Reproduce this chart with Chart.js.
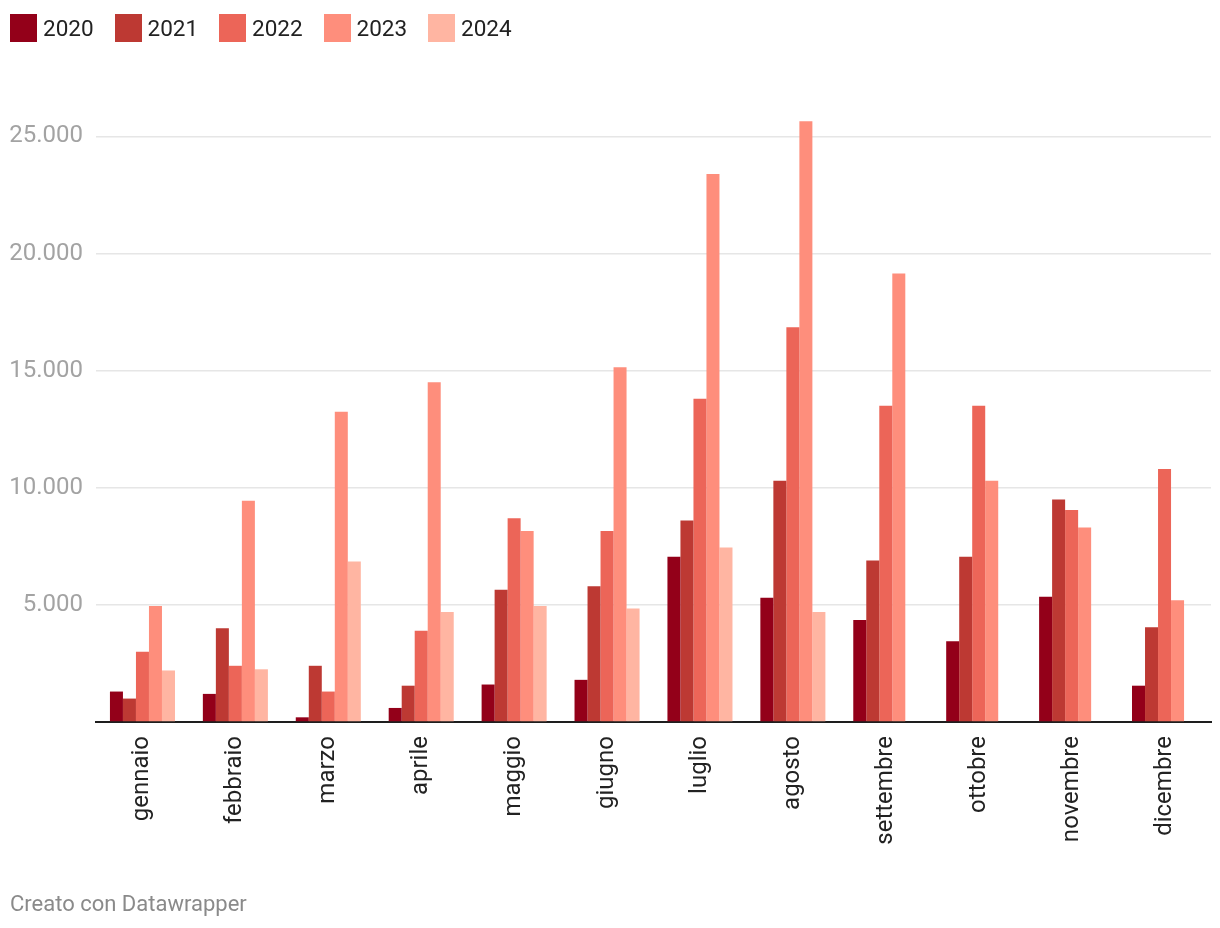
<!DOCTYPE html>
<html lang="it">
<head>
<meta charset="utf-8">
<title>Mesi 2020-2024</title>
<script src="https://cdn.jsdelivr.net/npm/chart.js@4.4.1/dist/chart.umd.min.js"></script>
<style>
  body { margin: 0; background: #fff; font-family: Roboto, "Noto Sans", sans-serif; }
  #wrap { position: relative; width: 1220px; height: 928px; }
  #legend { position: absolute; left: 10px; top: 14px; display: flex; }
  .item { display: flex; align-items: center; width: 104.5px; font-size: 22.5px; color: #222; }
  .box { width: 27px; height: 28px; margin-right: 6px; }
  #footer { position: absolute; left: 10px; top: 891px; font-size: 22px; color: #8a8a8a; }
</style>
</head>
<body>
<div id="wrap">
  <canvas id="chart"></canvas>
  <div id="legend"></div>
  <div id="footer">Creato con Datawrapper</div>
</div>
<script>
// Categories and series
const months = ["gennaio", "febbraio", "marzo", "aprile", "maggio", "giugno",
  "luglio", "agosto", "settembre", "ottobre", "novembre", "dicembre"];
const years = ["2020", "2021", "2022", "2023", "2024"];
const colors = ["#930019", "#bd3933", "#ec6558", "#fe8e7c", "#ffb5a2"];

const v2020 = [1300, 1200, 200, 600, 1600, 1800, 7050, 5300, 4350, 3450, 5350, 1550];
const v2021 = [1000, 4000, 2400, 1550, 5650, 5800, 8600, 10300, 6900, 7050, 9500, 4050];
const v2022 = [3000, 2400, 1300, 3900, 8700, 8150, 13800, 16850, 13500, 13500, 9050, 10800];
const v2023 = [4950, 9450, 13250, 14500, 8150, 15150, 23400, 25650, 19150, 10300, 8300, 5200];
const v2024 = [2200, 2250, 6850, 4700, 4950, 4850, 7450, 4700, null, null, null, null];

const yTicks = [5000, 10000, 15000, 20000, 25000];

const series = [v2020, v2021, v2022, v2023, v2024];

// Legend
const legend = document.getElementById("legend");
years.forEach((y, i) => {
  const item = document.createElement("div");
  item.className = "item";
  item.innerHTML = `<span class="box" style="background:${colors[i]}"></span>${y}`;
  legend.appendChild(item);
});

const fmt = (v) => v.toLocaleString("it-IT").replace(/\s/g, ".");

new Chart(document.getElementById("chart"), {
  type: "bar",
  data: {
    labels: months,
    datasets: years.map((y, i) => ({
      label: y,
      data: series[i],
      backgroundColor: colors[i],
      borderWidth: 0,
      categoryPercentage: 0.7,
      barPercentage: 1.0,
    })),
  },
  options: {
    responsive: true,
    maintainAspectRatio: false,
    animation: false,
    layout: { padding: { top: 113, right: 9, bottom: 67, left: 0 } },
    plugins: {
      legend: { display: false },
      tooltip: { enabled: false },
    },
    scales: {
      x: {
        z: 1,
        grid: { display: false },
        border: { display: true, color: "#1e1e1e", width: 2 },
        ticks: {
          minRotation: 90,
          maxRotation: 90,
          padding: 6,
          color: "#222",
          font: { family: "Roboto", size: 24 },
        },
        afterFit: (scale) => { scale.height = 139; },
      },
      y: {
        min: 0,
        max: 26000,
        border: { display: false },
        grid: {
          drawTicks: false,
          color: (ctx) => (ctx.tick && ctx.tick.value === 0 ? "rgba(0,0,0,0)" : "#e6e6e6"),
          lineWidth: 1.5,
        },
        afterBuildTicks: (scale) => {
          scale.ticks = [0].concat(yTicks).map((v) => ({ value: v }));
        },
        ticks: {
          padding: 13,
          color: "#a3a3a3",
          font: { family: "Roboto", size: 24 },
          callback: (value) => (value === 0 ? "" : fmt(value)),
        },
        afterFit: (scale) => { scale.width = 96; },
      },
    },
  },
});
</script>
</body>
</html>
